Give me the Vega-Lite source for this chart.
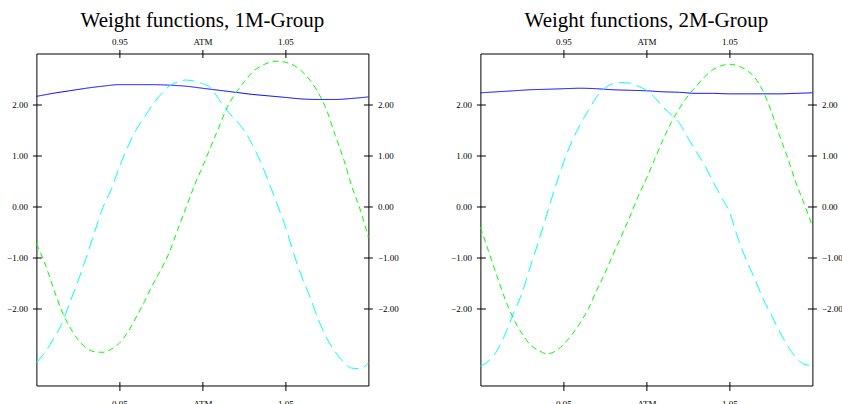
{
  "$schema": "https://vega.github.io/schema/vega-lite/v6.json",
  "padding": {"left": 5.4, "top": 8.5, "right": 5, "bottom": 0},
  "background": "white",
  "config": {"view": {"stroke": "black", "strokeWidth": 1}},
  "datasets": {
    "p1": [
      {"s":"w","x":0.90,"y":2.16},{"s":"w","x":0.91,"y":2.22},{"s":"w","x":0.92,"y":2.27},{"s":"w","x":0.93,"y":2.32},{"s":"w","x":0.94,"y":2.36},{"s":"w","x":0.95,"y":2.39},{"s":"w","x":0.96,"y":2.39},{"s":"w","x":0.97,"y":2.39},{"s":"w","x":0.98,"y":2.38},{"s":"w","x":0.99,"y":2.36},{"s":"w","x":1.00,"y":2.32},{"s":"w","x":1.01,"y":2.28},{"s":"w","x":1.02,"y":2.24},{"s":"w","x":1.03,"y":2.20},{"s":"w","x":1.04,"y":2.17},{"s":"w","x":1.05,"y":2.14},{"s":"w","x":1.06,"y":2.11},{"s":"w","x":1.07,"y":2.10},{"s":"w","x":1.08,"y":2.10},{"s":"w","x":1.09,"y":2.12},{"s":"w","x":1.10,"y":2.15},
      {"s":"c","x":0.900,"y":-3.05},{"s":"c","x":0.905,"y":-2.86},{"s":"c","x":0.910,"y":-2.60},{"s":"c","x":0.915,"y":-2.31},{"s":"c","x":0.920,"y":-1.89},{"s":"c","x":0.925,"y":-1.46},{"s":"c","x":0.930,"y":-1.00},{"s":"c","x":0.935,"y":-0.50},{"s":"c","x":0.940,"y":-0.02},{"s":"c","x":0.945,"y":0.33},{"s":"c","x":0.950,"y":0.78},{"s":"c","x":0.955,"y":1.17},{"s":"c","x":0.960,"y":1.50},{"s":"c","x":0.965,"y":1.75},{"s":"c","x":0.970,"y":2.00},{"s":"c","x":0.975,"y":2.20},{"s":"c","x":0.980,"y":2.36},{"s":"c","x":0.985,"y":2.44},{"s":"c","x":0.990,"y":2.48},{"s":"c","x":0.995,"y":2.46},{"s":"c","x":1.000,"y":2.41},{"s":"c","x":1.005,"y":2.33},{"s":"c","x":1.010,"y":2.10},{"s":"c","x":1.015,"y":1.88},{"s":"c","x":1.020,"y":1.70},{"s":"c","x":1.025,"y":1.50},{"s":"c","x":1.030,"y":1.22},{"s":"c","x":1.035,"y":0.88},{"s":"c","x":1.040,"y":0.48},{"s":"c","x":1.045,"y":0.05},{"s":"c","x":1.050,"y":-0.39},{"s":"c","x":1.055,"y":-0.92},{"s":"c","x":1.060,"y":-1.38},{"s":"c","x":1.065,"y":-1.78},{"s":"c","x":1.070,"y":-2.22},{"s":"c","x":1.075,"y":-2.58},{"s":"c","x":1.080,"y":-2.84},{"s":"c","x":1.085,"y":-3.04},{"s":"c","x":1.090,"y":-3.16},{"s":"c","x":1.095,"y":-3.17},{"s":"c","x":1.100,"y":-3.06},
      {"s":"g","x":0.900,"y":-0.72},{"s":"g","x":0.905,"y":-1.10},{"s":"g","x":0.910,"y":-1.57},{"s":"g","x":0.915,"y":-2.02},{"s":"g","x":0.920,"y":-2.35},{"s":"g","x":0.925,"y":-2.60},{"s":"g","x":0.930,"y":-2.76},{"s":"g","x":0.935,"y":-2.84},{"s":"g","x":0.940,"y":-2.85},{"s":"g","x":0.945,"y":-2.79},{"s":"g","x":0.950,"y":-2.67},{"s":"g","x":0.955,"y":-2.46},{"s":"g","x":0.960,"y":-2.17},{"s":"g","x":0.965,"y":-1.86},{"s":"g","x":0.970,"y":-1.53},{"s":"g","x":0.975,"y":-1.23},{"s":"g","x":0.980,"y":-0.90},{"s":"g","x":0.985,"y":-0.46},{"s":"g","x":0.990,"y":-0.03},{"s":"g","x":0.995,"y":0.40},{"s":"g","x":1.000,"y":0.78},{"s":"g","x":1.005,"y":1.17},{"s":"g","x":1.010,"y":1.56},{"s":"g","x":1.015,"y":1.95},{"s":"g","x":1.020,"y":2.22},{"s":"g","x":1.025,"y":2.44},{"s":"g","x":1.030,"y":2.63},{"s":"g","x":1.035,"y":2.75},{"s":"g","x":1.040,"y":2.82},{"s":"g","x":1.045,"y":2.85},{"s":"g","x":1.050,"y":2.83},{"s":"g","x":1.055,"y":2.77},{"s":"g","x":1.060,"y":2.65},{"s":"g","x":1.065,"y":2.47},{"s":"g","x":1.070,"y":2.22},{"s":"g","x":1.075,"y":1.88},{"s":"g","x":1.080,"y":1.40},{"s":"g","x":1.085,"y":0.94},{"s":"g","x":1.090,"y":0.40},{"s":"g","x":1.095,"y":-0.05},{"s":"g","x":1.100,"y":-0.60}
    ],
    "p2": [
      {"s":"w","x":0.90,"y":2.23},{"s":"w","x":0.91,"y":2.25},{"s":"w","x":0.92,"y":2.27},{"s":"w","x":0.93,"y":2.29},{"s":"w","x":0.94,"y":2.30},{"s":"w","x":0.95,"y":2.31},{"s":"w","x":0.96,"y":2.32},{"s":"w","x":0.97,"y":2.31},{"s":"w","x":0.98,"y":2.29},{"s":"w","x":0.99,"y":2.28},{"s":"w","x":1.00,"y":2.27},{"s":"w","x":1.01,"y":2.25},{"s":"w","x":1.02,"y":2.24},{"s":"w","x":1.03,"y":2.22},{"s":"w","x":1.04,"y":2.22},{"s":"w","x":1.05,"y":2.21},{"s":"w","x":1.06,"y":2.21},{"s":"w","x":1.07,"y":2.21},{"s":"w","x":1.08,"y":2.21},{"s":"w","x":1.09,"y":2.22},{"s":"w","x":1.10,"y":2.23},
      {"s":"c","x":0.900,"y":-3.12},{"s":"c","x":0.905,"y":-3.02},{"s":"c","x":0.910,"y":-2.82},{"s":"c","x":0.915,"y":-2.49},{"s":"c","x":0.920,"y":-2.08},{"s":"c","x":0.925,"y":-1.70},{"s":"c","x":0.930,"y":-1.18},{"s":"c","x":0.935,"y":-0.68},{"s":"c","x":0.940,"y":-0.15},{"s":"c","x":0.945,"y":0.38},{"s":"c","x":0.950,"y":0.86},{"s":"c","x":0.955,"y":1.27},{"s":"c","x":0.960,"y":1.60},{"s":"c","x":0.965,"y":1.88},{"s":"c","x":0.970,"y":2.15},{"s":"c","x":0.975,"y":2.32},{"s":"c","x":0.980,"y":2.41},{"s":"c","x":0.985,"y":2.43},{"s":"c","x":0.990,"y":2.42},{"s":"c","x":0.995,"y":2.36},{"s":"c","x":1.000,"y":2.28},{"s":"c","x":1.005,"y":2.14},{"s":"c","x":1.010,"y":1.95},{"s":"c","x":1.015,"y":1.80},{"s":"c","x":1.020,"y":1.63},{"s":"c","x":1.025,"y":1.35},{"s":"c","x":1.030,"y":1.08},{"s":"c","x":1.035,"y":0.82},{"s":"c","x":1.040,"y":0.50},{"s":"c","x":1.045,"y":0.20},{"s":"c","x":1.050,"y":-0.10},{"s":"c","x":1.055,"y":-0.60},{"s":"c","x":1.060,"y":-1.03},{"s":"c","x":1.065,"y":-1.39},{"s":"c","x":1.070,"y":-1.78},{"s":"c","x":1.075,"y":-2.10},{"s":"c","x":1.080,"y":-2.43},{"s":"c","x":1.085,"y":-2.72},{"s":"c","x":1.090,"y":-2.95},{"s":"c","x":1.095,"y":-3.08},{"s":"c","x":1.100,"y":-3.11},
      {"s":"g","x":0.900,"y":-0.40},{"s":"g","x":0.905,"y":-0.88},{"s":"g","x":0.910,"y":-1.36},{"s":"g","x":0.915,"y":-1.82},{"s":"g","x":0.920,"y":-2.20},{"s":"g","x":0.925,"y":-2.48},{"s":"g","x":0.930,"y":-2.70},{"s":"g","x":0.935,"y":-2.81},{"s":"g","x":0.940,"y":-2.88},{"s":"g","x":0.945,"y":-2.83},{"s":"g","x":0.950,"y":-2.70},{"s":"g","x":0.955,"y":-2.51},{"s":"g","x":0.960,"y":-2.28},{"s":"g","x":0.965,"y":-2.00},{"s":"g","x":0.970,"y":-1.64},{"s":"g","x":0.975,"y":-1.30},{"s":"g","x":0.980,"y":-0.93},{"s":"g","x":0.985,"y":-0.57},{"s":"g","x":0.990,"y":-0.20},{"s":"g","x":0.995,"y":0.20},{"s":"g","x":1.000,"y":0.55},{"s":"g","x":1.005,"y":0.93},{"s":"g","x":1.010,"y":1.31},{"s":"g","x":1.015,"y":1.65},{"s":"g","x":1.020,"y":1.93},{"s":"g","x":1.025,"y":2.17},{"s":"g","x":1.030,"y":2.36},{"s":"g","x":1.035,"y":2.54},{"s":"g","x":1.040,"y":2.68},{"s":"g","x":1.045,"y":2.76},{"s":"g","x":1.050,"y":2.79},{"s":"g","x":1.055,"y":2.76},{"s":"g","x":1.060,"y":2.68},{"s":"g","x":1.065,"y":2.54},{"s":"g","x":1.070,"y":2.28},{"s":"g","x":1.075,"y":1.89},{"s":"g","x":1.080,"y":1.41},{"s":"g","x":1.085,"y":0.97},{"s":"g","x":1.090,"y":0.48},{"s":"g","x":1.095,"y":0.06},{"s":"g","x":1.100,"y":-0.38}
    ]
  },
  "bounds": "flush",
  "spacing": 112,
  "hconcat": [
    {
      "width": 332, "height": 332,
      "data": {"name": "p1"},
      "title": {"text": "Weight functions, 1M-Group", "font": "Liberation Serif", "fontSize": 21, "fontWeight": "normal", "color": "black", "anchor": "middle", "baseline": "alphabetic", "offset": -10},
      "layer": [
        {
          "mark": {"type": "line", "strokeWidth": 1, "interpolate": "monotone"},
          "encoding": {
            "x": {"field": "x", "type": "quantitative", "scale": {"domain": [0.9, 1.1], "nice": false, "zero": false},
              "axis": {"orient": "bottom", "title": null, "values": [0.95, 1.0, 1.05], "labelExpr": "datum.value == 1 ? 'ATM' : format(datum.value, '.2f')", "domain": false, "grid": false, "tickSize": 9, "offset": -4, "tickColor": "black", "labelColor": "black", "labelFont": "Liberation Serif", "labelFontSize": 9, "labelPadding": 9}},
            "y": {"field": "y", "type": "quantitative", "scale": {"domain": [-3.5, 3], "nice": false, "zero": false},
              "axis": {"orient": "left", "title": null, "values": [-2, -1, 0, 1, 2], "format": ".2f", "domain": false, "grid": false, "tickSize": 9, "offset": -5, "tickColor": "black", "labelColor": "black", "labelFont": "Liberation Serif", "labelFontSize": 9, "labelPadding": 5}},
            "color": {"field": "s", "type": "nominal", "scale": {"domain": ["w", "c", "g"], "range": ["#0000ff", "#00ffff", "#00ff00"]}, "legend": null},
            "strokeDash": {"field": "s", "type": "nominal", "scale": {"domain": ["w", "c", "g"], "range": [[1, 0], [12, 6], [6, 4]]}, "legend": null}
          }
        },
        {
          "mark": {"type": "point", "opacity": 0},
          "encoding": {
            "x": {"field": "x", "type": "quantitative",
              "axis": {"orient": "top", "title": null, "values": [0.95, 1.0, 1.05], "labelExpr": "datum.value == 1 ? 'ATM' : format(datum.value, '.2f')", "domain": false, "grid": false, "tickSize": 8, "offset": -4, "tickColor": "black", "labelColor": "black", "labelFont": "Liberation Serif", "labelFontSize": 9, "labelPadding": 3}},
            "y": {"field": "y", "type": "quantitative",
              "axis": {"orient": "right", "title": null, "values": [-2, -1, 0, 1, 2], "format": ".2f", "domain": false, "grid": false, "tickSize": 9, "offset": -5, "tickColor": "black", "labelColor": "black", "labelFont": "Liberation Serif", "labelFontSize": 9, "labelPadding": 5}}
          }
        }
      ]
    },
    {
      "width": 332, "height": 332,
      "data": {"name": "p2"},
      "title": {"text": "Weight functions, 2M-Group", "font": "Liberation Serif", "fontSize": 21, "fontWeight": "normal", "color": "black", "anchor": "middle", "baseline": "alphabetic", "offset": -10},
      "layer": [
        {
          "mark": {"type": "line", "strokeWidth": 1, "interpolate": "monotone"},
          "encoding": {
            "x": {"field": "x", "type": "quantitative", "scale": {"domain": [0.9, 1.1], "nice": false, "zero": false},
              "axis": {"orient": "bottom", "title": null, "values": [0.95, 1.0, 1.05], "labelExpr": "datum.value == 1 ? 'ATM' : format(datum.value, '.2f')", "domain": false, "grid": false, "tickSize": 9, "offset": -4, "tickColor": "black", "labelColor": "black", "labelFont": "Liberation Serif", "labelFontSize": 9, "labelPadding": 9}},
            "y": {"field": "y", "type": "quantitative", "scale": {"domain": [-3.5, 3], "nice": false, "zero": false},
              "axis": {"orient": "left", "title": null, "values": [-2, -1, 0, 1, 2], "format": ".2f", "domain": false, "grid": false, "tickSize": 9, "offset": -5, "tickColor": "black", "labelColor": "black", "labelFont": "Liberation Serif", "labelFontSize": 9, "labelPadding": 5}},
            "color": {"field": "s", "type": "nominal", "scale": {"domain": ["w", "c", "g"], "range": ["#0000ff", "#00ffff", "#00ff00"]}, "legend": null},
            "strokeDash": {"field": "s", "type": "nominal", "scale": {"domain": ["w", "c", "g"], "range": [[1, 0], [12, 6], [6, 4]]}, "legend": null}
          }
        },
        {
          "mark": {"type": "point", "opacity": 0},
          "encoding": {
            "x": {"field": "x", "type": "quantitative",
              "axis": {"orient": "top", "title": null, "values": [0.95, 1.0, 1.05], "labelExpr": "datum.value == 1 ? 'ATM' : format(datum.value, '.2f')", "domain": false, "grid": false, "tickSize": 8, "offset": -4, "tickColor": "black", "labelColor": "black", "labelFont": "Liberation Serif", "labelFontSize": 9, "labelPadding": 3}},
            "y": {"field": "y", "type": "quantitative",
              "axis": {"orient": "right", "title": null, "values": [-2, -1, 0, 1, 2], "format": ".2f", "domain": false, "grid": false, "tickSize": 9, "offset": -5, "tickColor": "black", "labelColor": "black", "labelFont": "Liberation Serif", "labelFontSize": 9, "labelPadding": 5}}
          }
        }
      ]
    }
  ]
}
